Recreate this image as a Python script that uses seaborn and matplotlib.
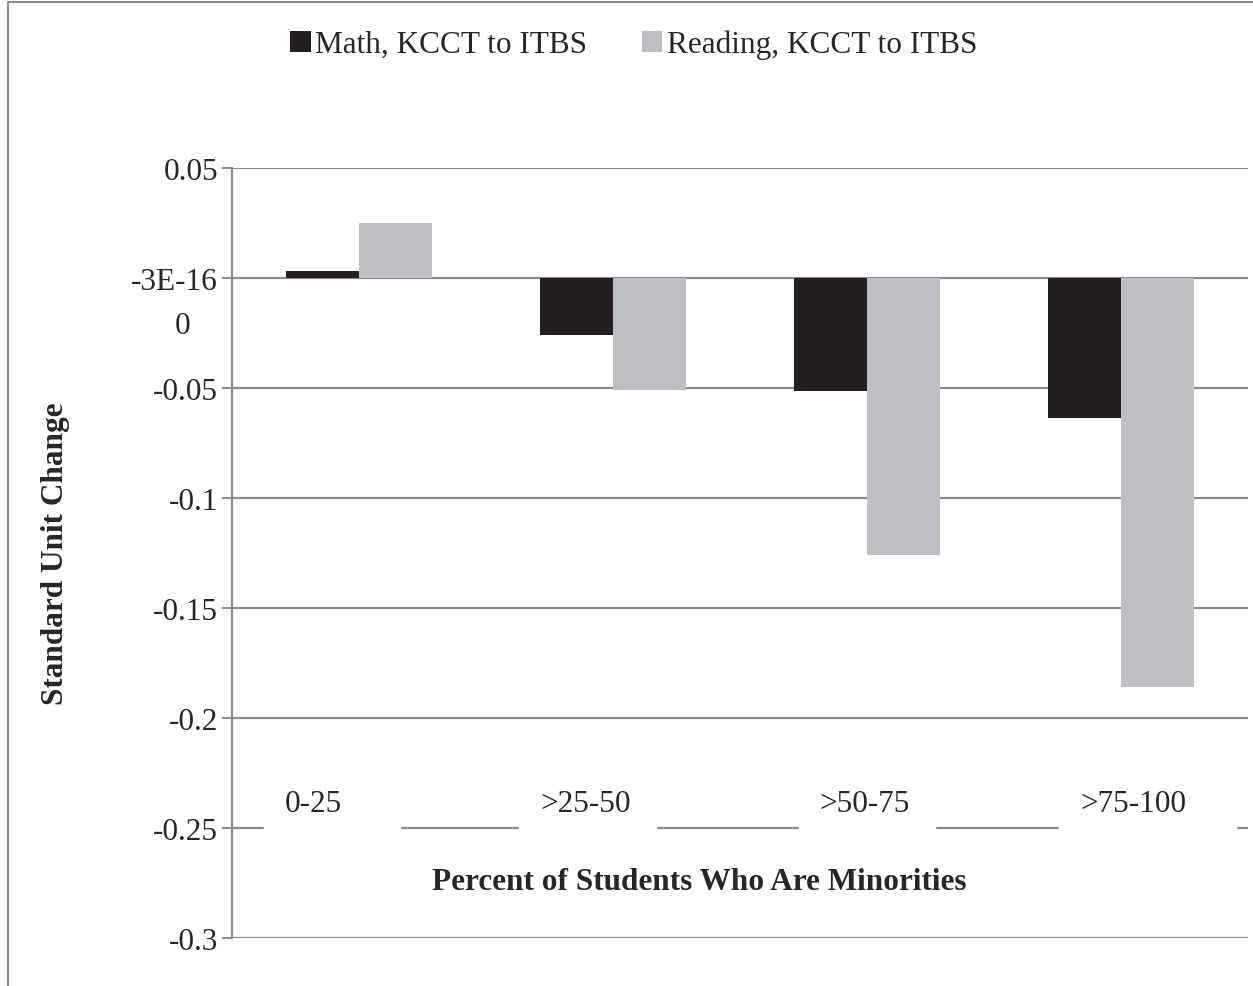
import matplotlib
matplotlib.use("Agg")
import matplotlib.pyplot as plt
import matplotlib.lines as mlines
import seaborn as sns
import pandas as pd

categorias = ["0-25", ">25-50", ">50-75", ">75-100"]
series = ["Math, KCCT to ITBS", "Reading, KCCT to ITBS"]
math_vals = [0.0032, -0.026, -0.0515, -0.0636]
reading_vals = [0.025, -0.051, -0.126, -0.186]
ytick_vals = [0.05, 0.0, -0.05, -0.1, -0.15, -0.2, -0.25, -0.3]
ytick_labels = ["0.05", "-3E-16", "-0.05", "-0.1", "-0.15", "-0.2", "-0.25", "-0.3"]

colores = {series[0]: "#231f20", series[1]: "#bebfc2"}

df = pd.DataFrame({
    "cat": categorias * 2,
    "serie": [series[0]] * 4 + [series[1]] * 4,
    "valor": math_vals + reading_vals,
})

sns.set_style("white")
plt.rcParams["font.family"] = ["Liberation Serif", "DejaVu Serif"]
fs = 22.5

fig = plt.figure(figsize=(12.53, 9.87), dpi=100)
ax = fig.add_axes([232 / 1253, 48 / 987, 1016 / 1253, 770 / 987])

sns.barplot(data=df, x="cat", y="valor", hue="serie", palette=colores,
            width=0.575, gap=0, saturation=1, linewidth=0, ax=ax, legend=True)

ax.set_ylim(-0.3, 0.05)
ax.set_xlim(-0.5, 3.5)
gris = "#8c8c8c"

# lineas de cuadricula (la de -0.25 va cortada por las etiquetas)
for v in ytick_vals:
    if v == -0.25:
        continue
    ax.axhline(v, color=gris, lw=1.6, zorder=0)
for a, b in [(0, 0.0305), (0.1673, 0.2815), (0.4193, 0.5571), (0.6939, 0.8130), (0.9902, 1.0)]:
    ax.axhline(-0.25, xmin=a, xmax=b, color=gris, lw=1.6, zorder=0)

ax.set_yticks(ytick_vals, labels=ytick_labels)
ax.set_yticks([-0.02], labels=["0"], minor=True)
ax.tick_params(axis="y", which="major", length=7, width=1.5, color=gris,
               pad=3, labelsize=fs, left=True, direction="out")
ax.tick_params(axis="y", which="minor", length=0, pad=30, labelsize=fs)
ax.set_xticks([])
ax.set_xlabel("")
ax.set_ylabel("Standard Unit Change", fontsize=fs, fontweight="bold", labelpad=44)

for s in ["top", "right", "bottom"]:
    ax.spines[s].set_visible(False)
ax.spines["left"].set_color(gris)
ax.spines["left"].set_linewidth(1.6)

# etiquetas de categoria
desplaz = [-0.18, -0.106, -0.008, 0.047]
for i, c in enumerate(categorias):
    ax.text(i + desplaz[i], -0.239, c, ha="center", va="center", fontsize=fs)

ax.text(0.46, -0.2745, "Percent of Students Who Are Minorities", ha="center", va="center",
        fontsize=fs, fontweight="bold", transform=ax.get_yaxis_transform())

h, l = ax.get_legend_handles_labels()
ax.legend_.remove()
fig.legend(h, l, loc="center", bbox_to_anchor=(0.506, 0.954), ncol=2, frameon=False,
           fontsize=fs, handlelength=0.65, handleheight=0.65, handletextpad=0.15,
           columnspacing=1.75)

# borde del grafico
fig.add_artist(mlines.Line2D([8 / 1253, 1], [1 - 3 / 987, 1 - 3 / 987], color=gris, lw=1.5))
fig.add_artist(mlines.Line2D([8 / 1253, 8 / 1253], [0, 1 - 3 / 987], color=gris, lw=1.5))

fig.savefig("out.png", dpi=100)
